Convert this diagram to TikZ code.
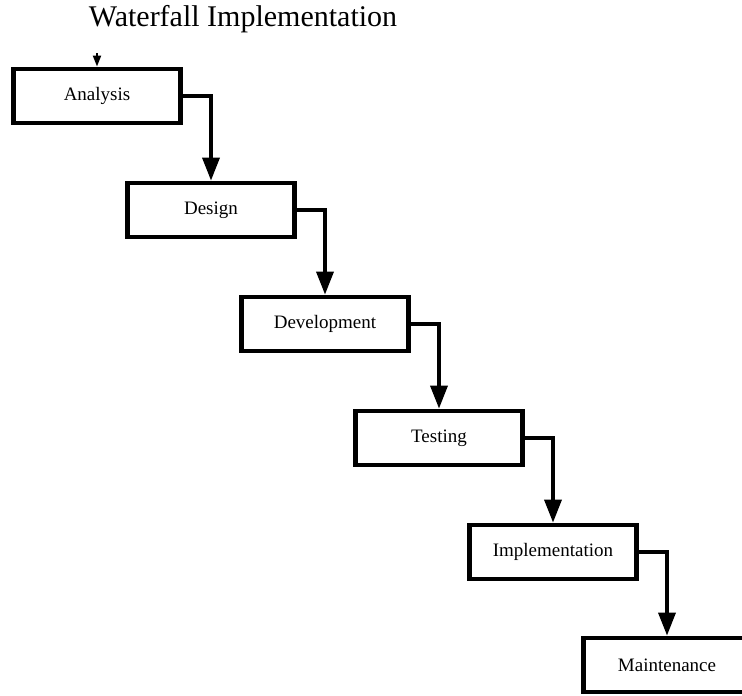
\documentclass[tikz,border=0pt]{standalone}
\usepackage{fontspec}
\setmainfont{Liberation Serif}
\usetikzlibrary{arrows.meta}
\begin{document}
\begin{tikzpicture}[x=1pt,y=-1pt,
  stage/.style={draw=black, line width=4.8pt, fill=white, minimum width=167pt,
    minimum height=54pt, inner sep=0pt, font=\fontsize{19}{21}\selectfont},
  flow/.style={line width=3.6pt, -{Triangle[length=23pt,width=17pt]}},
  entry/.style={line width=2pt, -{Triangle[length=11pt,width=8pt]}}]
\useasboundingbox (0,0) rectangle (742,696);
\clip (0,0) rectangle (742,696);
\fill[white] (0,0) rectangle (742,696);

% title
\node[anchor=base, font=\fontsize{30}{34}\selectfont] (title) at (243,26) {Waterfall Implementation};

% stages of the cascade
\node[stage] (analysis) at (97,96)   {Analysis};
\node[stage] (design)   at (211,210) {Design};
\node[stage] (devel)    at (325,324) {Development};
\node[stage] (testing)  at (439,438) {Testing};
\node[stage] (impl)     at (553,552) {Implementation};
\node[stage] (maint)    at (667,665) {Maintenance};

% entry into the first stage
\coordinate (start) at (97,53);
\draw[entry] (start) -- (analysis.north);

% step-down connectors
\draw[flow] (analysis.east) -| (design.north);
\draw[flow] (design.east)   -| (devel.north);
\draw[flow] (devel.east)    -| (testing.north);
\draw[flow] (testing.east)  -| (impl.north);
\draw[flow] (impl.east)     -| (maint.north);
\end{tikzpicture}
\end{document}
